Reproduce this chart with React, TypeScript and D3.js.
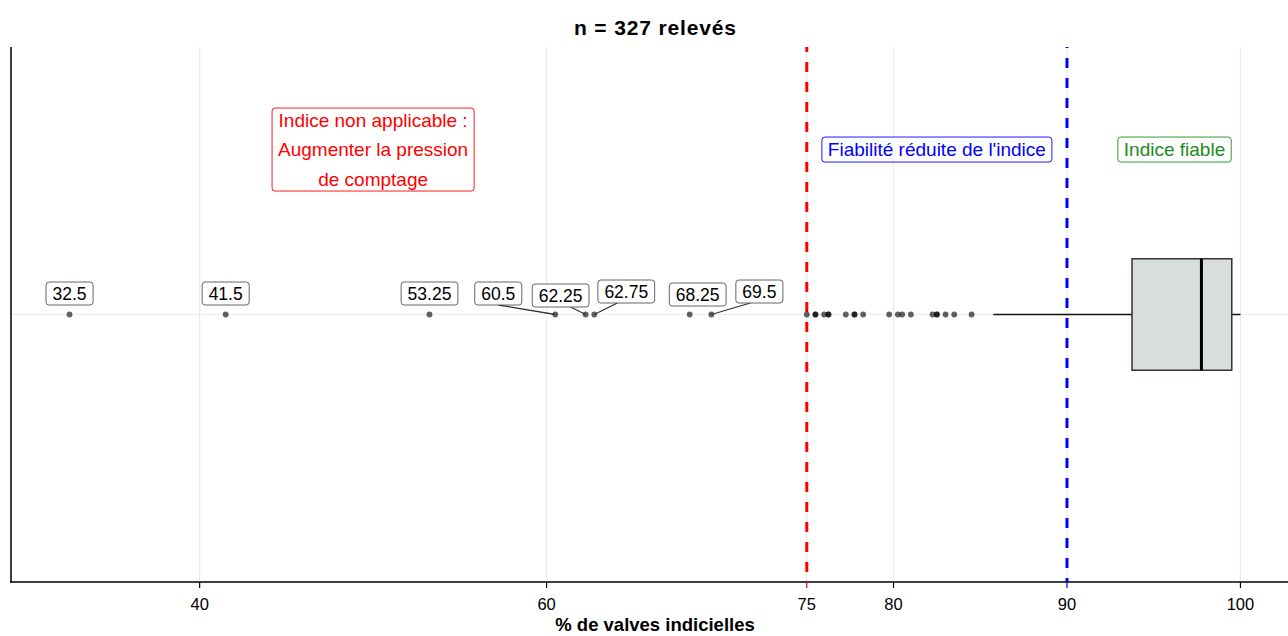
import React from 'react';
import * as d3 from 'd3';

const W = 1288;
const H = 636;

const chartTitle = 'n = 327 relevés';
const xAxisTitle = '% de valves indicielles';
const xTickValues = [40, 60, 75, 80, 90, 100];
const xTickColors = ['#000000', '#000000', '#FF0000', '#000000', '#0000FF', '#000000'];

const thresholdValues = [75, 90];
const thresholdColors = ['#FF0000', '#0000FF'];
const thresholdDashOffsets = [5, 9];

// lower whisker, Q1, median, Q3, upper whisker
const boxValues = [85.75, 93.75, 97.75, 99.5, 100];

const labeledOutliers = [32.5, 41.5, 53.25, 60.5, 62.25, 62.75, 68.25, 69.5];
const otherOutliers = [
  75, 75.5, 75.5, 76, 76.25, 76.25, 77.25, 77.75, 77.75, 78.25,
  79.75, 80.25, 80.5, 81, 82.25, 82.5, 82.5, 83, 83.5, 84.5,
];

// repel layout (pixel nudges of label centre from the point), and segment anchor on label bottom
const labelNudges: [number, number][] = [
  [0, -21], [0, -21], [0, -21], [-57, -21], [-25, -19], [32, -23], [8, -20], [48, -23],
];
const segmentAnchors: (number | null)[] = [null, null, null, 0, 10, -9, null, -9];

const annotationTexts = [
  ['Indice non applicable :', 'Augmenter la pression', 'de comptage'],
  ["Fiabilité réduite de l'indice"],
  ['Indice fiable'],
];
const annotationX = [50, 82.5, 96.2];
const annotationY = [1.37, 1.37, 1.37];
const annotationColors = ['#FF0000', '#0000FF', '#228B22'];

const FONT = '"Liberation Sans", Arial, Helvetica, sans-serif';

let _ctx: CanvasRenderingContext2D | null = null;
function textWidth(s: string, size: number, weight = 'normal') {
  if (!_ctx) _ctx = document.createElement('canvas').getContext('2d');
  if (!_ctx) return s.length * size * 0.5;
  _ctx.font = `${weight} ${size}px ${FONT}`;
  return _ctx.measureText(s).width;
}

export default function App() {
  const margin = { left: 11, right: -11, top: 47, bottom: 54 };
  const x = d3.scaleLinear().domain([29.125, 103.375]).range([margin.left, W - margin.right]);
  const y = d3.scaleLinear().domain([0.4, 1.6]).range([H - margin.bottom, margin.top]);
  const panelTop = margin.top;
  const panelBottom = H - margin.bottom;
  const cy = y(1);
  const boxHalf = (y(1) - y(1.125));
  const midX = (x.range()[0] + x.range()[1]) / 2;

  const [wLo, q1, med, q3, wHi] = boxValues;
  const labelSize = 17.5;
  const labelH = 23;

  return (
    <svg width={W} height={H} style={{ position: 'absolute', left: 0, top: 0, background: '#fff' }}
      fontFamily={FONT}>
      <rect x={0} y={0} width={W} height={H} fill="#fff" />
      {/* grid */}
      {xTickValues.map((v) => (
        <line key={'g' + v} x1={x(v)} x2={x(v)} y1={panelTop} y2={panelBottom} stroke="#EBEBEB" strokeWidth={1.2} />
      ))}
      <line x1={margin.left} x2={W} y1={cy} y2={cy} stroke="#EBEBEB" strokeWidth={1.2} />

      {/* threshold lines */}
      {thresholdValues.map((v, i) => (
        <line key={'t' + v} x1={x(v)} x2={x(v)} y1={panelTop} y2={panelBottom}
          stroke={thresholdColors[i]} strokeWidth={3} strokeDasharray="10,10" strokeDashoffset={thresholdDashOffsets[i]} />
      ))}

      {/* boxplot */}
      <line x1={x(wLo)} x2={x(q1)} y1={cy} y2={cy} stroke="#111" strokeWidth={1.5} />
      <line x1={x(q3)} x2={x(wHi)} y1={cy} y2={cy} stroke="#111" strokeWidth={1.5} />
      <rect x={x(q1)} y={cy - boxHalf} width={x(q3) - x(q1)} height={2 * boxHalf}
        fill="#D8DEDD" stroke="#333" strokeWidth={1.5} />
      <line x1={x(med)} x2={x(med)} y1={cy - boxHalf} y2={cy + boxHalf} stroke="#000" strokeWidth={3} />

      {/* outlier points */}
      {otherOutliers.concat(labeledOutliers).map((v, i) => (
        <circle key={'p' + i} cx={x(v)} cy={cy} r={2.9} fill="#000" fillOpacity={0.62} />
      ))}

      {/* repel labels */}
      {labeledOutliers.map((v, i) => {
        const px = x(v);
        const [dx, dy] = labelNudges[i];
        const lx = px + dx;
        const ly = cy + dy;
        const txt = String(v);
        const w = textWidth(txt, labelSize) + 13;
        const anc = segmentAnchors[i];
        return (
          <g key={'l' + i}>
            {anc !== null && (
              <line x1={lx + anc} y1={ly + labelH / 2} x2={px} y2={cy} stroke="#333" strokeWidth={1.3} />
            )}
            <rect x={lx - w / 2} y={ly - labelH / 2} width={w} height={labelH} rx={3} ry={3}
              fill="#fff" stroke="#555" strokeWidth={0.9} />
            <text x={lx} y={ly} dy="0.36em" textAnchor="middle" fontSize={labelSize} fill="#000">{txt}</text>
          </g>
        );
      })}

      {/* annotations */}
      {annotationTexts.map((lines, i) => {
        const ax = x(annotationX[i]);
        const ay = y(annotationY[i]);
        const size = 19;
        const lh = 29.5;
        const w = Math.max(...lines.map((l) => textWidth(l, size))) + 12;
        const h = lines.length === 1 ? 25 : (lines.length - 1) * lh + 24;
        const top = ay - h / 2;
        return (
          <g key={'a' + i}>
            <rect x={ax - w / 2} y={top} width={w} height={h} rx={3} ry={3} fill="#fff"
              stroke={annotationColors[i]} strokeWidth={0.9} />
            {lines.map((l, j) => (
              <text key={j} x={ax} y={ay - ((lines.length - 1) * lh) / 2 + j * lh} dy="0.36em"
                textAnchor="middle" fontSize={size} fill={annotationColors[i]}>{l}</text>
            ))}
          </g>
        );
      })}

      {/* axes */}
      <line x1={margin.left} x2={margin.left} y1={panelTop} y2={panelBottom + 0.75} stroke="#000" strokeWidth={1.5} />
      <line x1={margin.left - 0.75} x2={W} y1={panelBottom} y2={panelBottom} stroke="#000" strokeWidth={1.5} />
      {xTickValues.map((v, i) => (
        <g key={'tk' + v}>
          <line x1={x(v)} x2={x(v)} y1={panelBottom} y2={panelBottom + 6} stroke={xTickColors[i]} strokeWidth={1.2} />
          <text x={x(v)} y={panelBottom + 22} dy="0.36em" textAnchor="middle" fontSize={16.5} fill="#000">{v}</text>
        </g>
      ))}
      <text x={midX} y={631} textAnchor="middle" fontSize={18.5} fontWeight="bold" fill="#000">{xAxisTitle}</text>
      <text x={midX} y={27} dy="0.36em" textAnchor="middle" fontSize={21} fontWeight="bold" fill="#000"
        textLength={162} lengthAdjust="spacing">{chartTitle}</text>
    </svg>
  );
}
